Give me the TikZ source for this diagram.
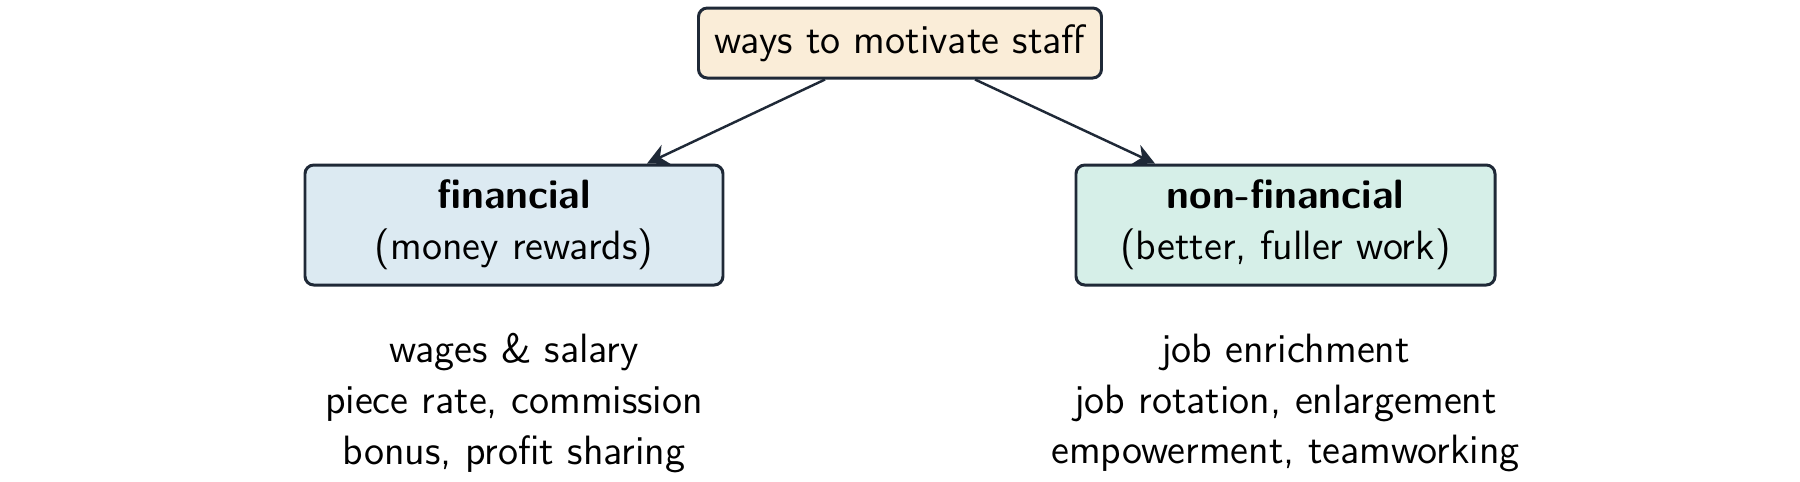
\documentclass[tikz,border=0pt]{standalone}
\usetikzlibrary{arrows.meta}
\definecolor{edge}{HTML}{1F2937}
\definecolor{topfill}{HTML}{FAEDD8}
\definecolor{finfill}{HTML}{DCEAF2}
\definecolor{nonfill}{HTML}{D6EFE8}
\tikzset{
  box/.style={draw=edge, line width=0.85pt, rounded corners=2.5pt, inner sep=0pt, align=center,
    font=\sffamily\fontsize{11.65}{14.5}\selectfont},
  listtext/.style={align=center, inner sep=0pt, font=\sffamily\fontsize{11.65}{14.5}\selectfont},
  conn/.style={draw=edge, line width=0.7pt, -{Stealth[length=6pt,width=6pt]}}
}
\begin{document}
\begin{tikzpicture}
\useasboundingbox (0,0) rectangle (18,-4.81);
\node[box, fill=topfill, minimum width=4.03cm, minimum height=0.70cm] (top) at (9.0,-0.43) {ways to motivate staff};
\node[box, fill=finfill, minimum width=4.18cm, minimum height=1.20cm] (fin) at (5.14,-2.25) {\textbf{financial}\\(money rewards)};
\node[box, fill=nonfill, minimum width=4.19cm, minimum height=1.20cm] (non) at (12.855,-2.25) {\textbf{non-financial}\\(better, fuller work)};
\node[listtext] (finlist) at (5.14,-4.03) {wages \& salary\\piece rate, commission\\bonus, profit sharing};
\node[listtext] (nonlist) at (12.855,-4.03) {job enrichment\\job rotation, enlargement\\empowerment, teamworking};
\draw[conn] ([xshift=-0.75cm]top.south) -- ([xshift=1.33cm]fin.north);
\draw[conn] ([xshift=0.75cm]top.south) -- ([xshift=-1.305cm]non.north);
\end{tikzpicture}
\end{document}
